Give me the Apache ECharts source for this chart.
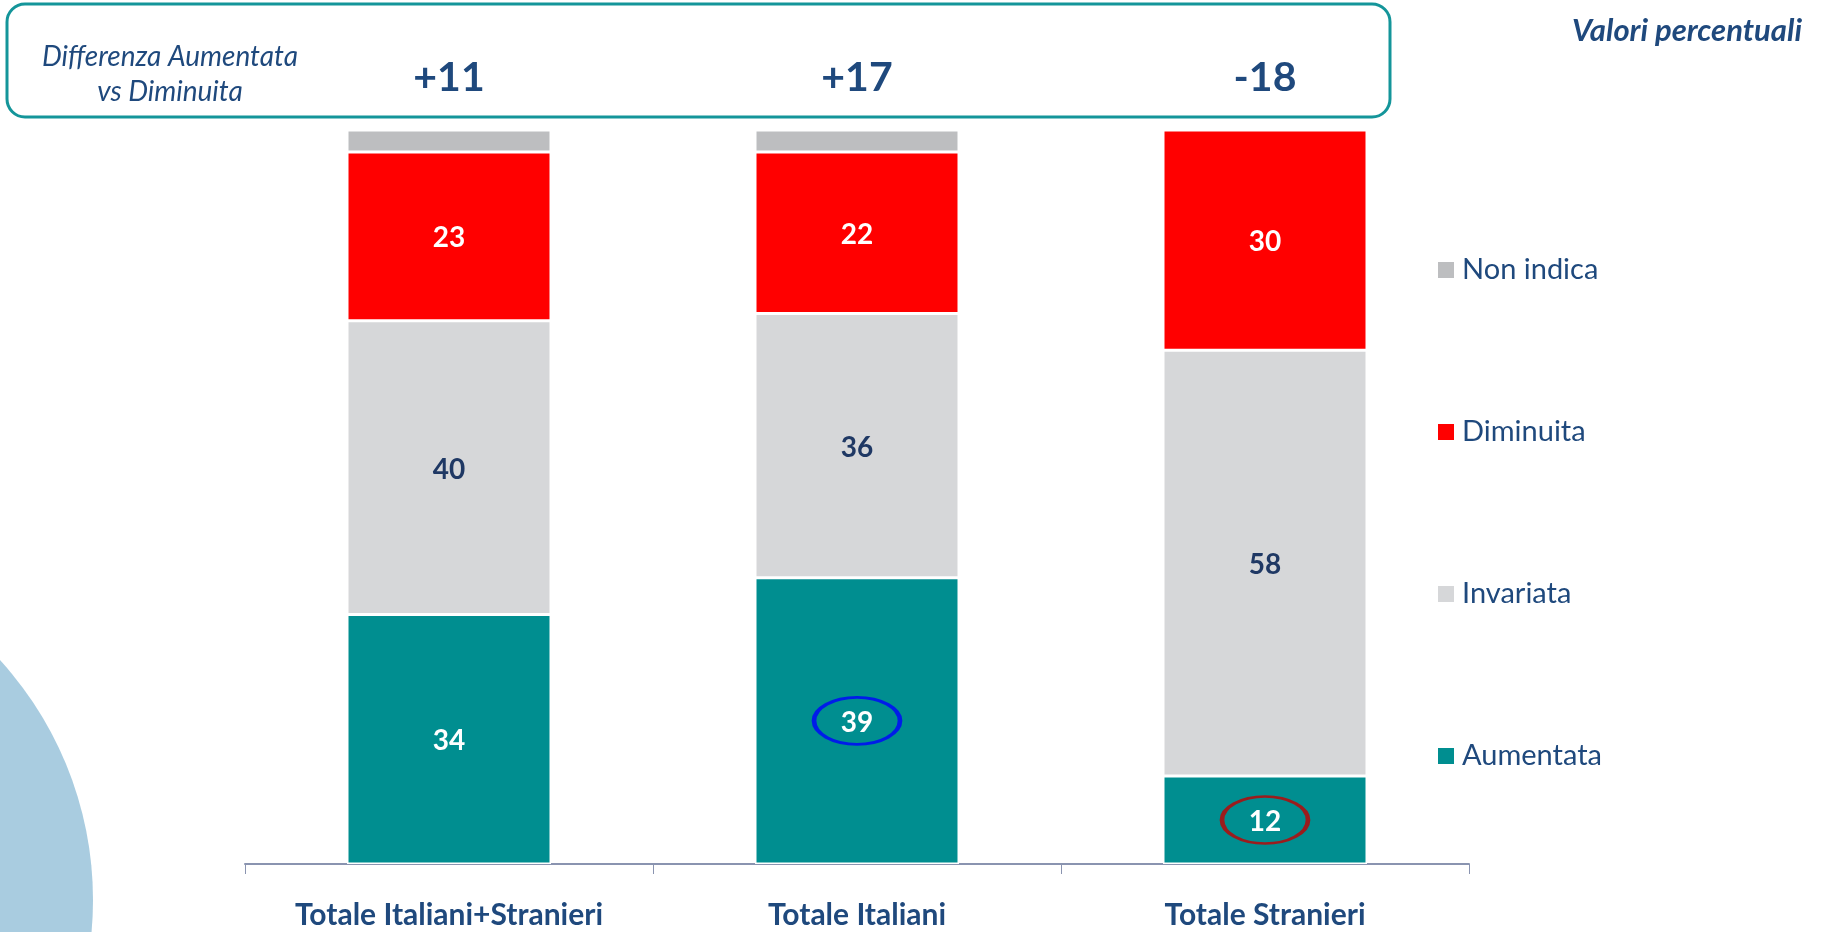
<!DOCTYPE html>
<html style="height: 100%">
<head>
    <meta charset="utf-8">
    <title>ECharts</title>
    <script src="https://cdn.jsdelivr.net/npm/echarts@6/dist/echarts.min.js"></script>
</head>
<body style="height: 100%; margin: 0">
<div id="main" style="width: 1827px; height: 932px"></div>
<script type="text/javascript">

    // dati (valori percentuali)
    var categorie = ['Totale Italiani+Stranieri', 'Totale Italiani', 'Totale Stranieri'];
    var aumentata = [34, 39, 12];
    var invariata = [40, 36, 58];
    var diminuita = [23, 22, 30];
    var nonIndica = [3, 3, 0];
    // differenza aumentata vs diminuita
    var differenza = ['+11', '+17', '-18'];
    // valori "Aumentata" cerchiati: [indice categoria, colore]
    var cerchiati = [[1, '#0000FF'], [2, '#C00000']];

    var blu = '#1F497D';
    var font = 'Lato';

    var myChart = echarts.init(document.getElementById('main'));

    function etichetta(colore) {
        return {
            show: true,
            position: 'inside',
            offset: [0, 2],
            color: colore,
            fontFamily: font,
            fontWeight: 'bold',
            fontSize: 28
        };
    }

    option = {
        backgroundColor: '#fff',
        title: {
            text: 'Valori percentuali',
            right: 20,
            top: 10,
            textStyle: {
                color: blu,
                fontFamily: font,
                fontStyle: 'italic',
                fontWeight: 'bold',
                fontSize: 31
            }
        },
        legend: {
            orient: 'vertical',
            left: 1431,
            top: 249,
            itemWidth: 18,
            itemHeight: 18,
            itemGap: 130,
            icon: 'rect',
            data: ['Non indica', 'Diminuita', 'Invariata', 'Aumentata'],
            textStyle: {
                color: blu,
                fontFamily: font,
                fontSize: 29,
                lineHeight: 32,
                padding: [0, 0, 0, 2]
            }
        },
        grid: {
            left: 245,
            right: 358,
            top: 130,
            bottom: 67
        },
        xAxis: [
            {
                type: 'category',
                data: categorie,
                axisLine: {lineStyle: {color: '#8A94B0', width: 2}},
                axisTick: {show: true, length: 10, lineStyle: {color: '#8A94B0', width: 1}},
                axisLabel: {
                    margin: 34,
                    color: blu,
                    fontFamily: font,
                    fontWeight: 'bold',
                    fontSize: 30,
                    lineHeight: 34
                }
            },
            {
                type: 'category',
                position: 'top',
                data: differenza,
                axisLine: {show: false},
                axisTick: {show: false},
                axisLabel: {
                    margin: 32,
                    color: blu,
                    fontFamily: font,
                    fontWeight: 'bold',
                    fontSize: 41
                }
            }
        ],
        yAxis: {
            type: 'value',
            min: 0,
            max: 100,
            show: false,
            splitLine: {show: false}
        },
        series: [
            {
                name: 'Aumentata',
                type: 'bar',
                stack: 'tot',
                barWidth: '50%',
                data: aumentata,
                itemStyle: {color: '#008E90', borderColor: '#fff', borderWidth: 1.5},
                label: etichetta('#fff')
            },
            {
                name: 'Invariata',
                type: 'bar',
                stack: 'tot',
                data: invariata,
                itemStyle: {color: '#D6D7D9', borderColor: '#fff', borderWidth: 1.5},
                label: etichetta('#1F3864')
            },
            {
                name: 'Diminuita',
                type: 'bar',
                stack: 'tot',
                data: diminuita,
                itemStyle: {color: '#FF0000', borderColor: '#fff', borderWidth: 1.5},
                label: etichetta('#fff')
            },
            {
                name: 'Non indica',
                type: 'bar',
                stack: 'tot',
                data: nonIndica,
                itemStyle: {color: '#BDBEC0', borderColor: '#fff', borderWidth: 1.5}
            },
            {
                name: 'cerchi',
                type: 'scatter',
                z: 5,
                symbol: 'circle',
                symbolSize: [86, 47],
                silent: true,
                data: cerchiati.map(function (c) {
                    return {
                        value: [c[0], aumentata[c[0]] / 2],
                        itemStyle: {color: 'rgba(0,0,0,0)', borderColor: c[1], borderWidth: 3.5}
                    };
                })
            }
        ],
        graphic: [
            {
                type: 'circle',
                silent: true,
                z: 0,
                shape: {cx: -263, cy: 900, r: 356},
                style: {fill: '#A9CCE0'}
            },
            {
                type: 'rect',
                silent: true,
                shape: {x: 7, y: 4, width: 1383, height: 113, r: 18},
                style: {fill: 'none', stroke: '#14959A', lineWidth: 3}
            },
            {
                type: 'text',
                silent: true,
                x: 170,
                y: 74,
                style: {
                    text: 'Differenza Aumentata\nvs Diminuita',
                    align: 'center',
                    verticalAlign: 'middle',
                    fill: blu,
                    fontFamily: font,
                    fontStyle: 'italic',
                    fontSize: 28,
                    lineHeight: 35
                }
            }
        ]
    };

    myChart.setOption(option);
</script>
</body>
</html>
